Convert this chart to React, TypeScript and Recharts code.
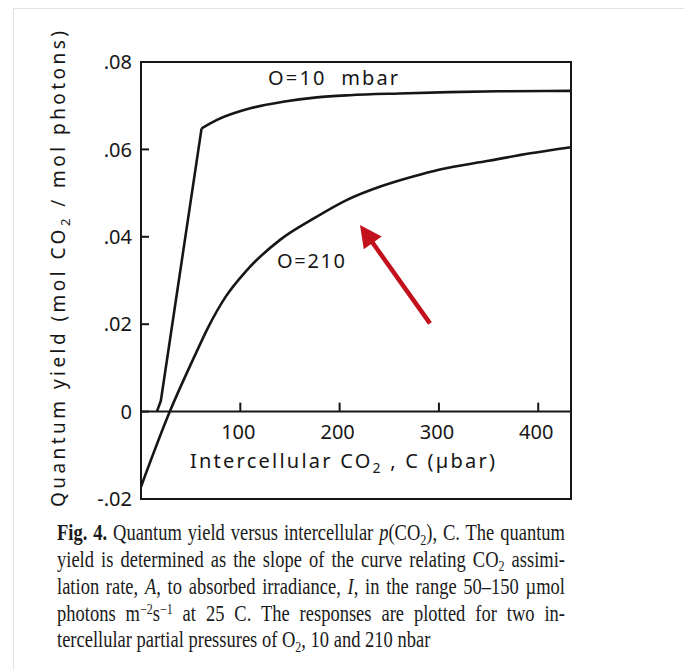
import React from 'react';
import { LineChart, Line, XAxis, YAxis, ReferenceLine, ReferenceDot, ReferenceArea } from 'recharts';

// ---- data ----
const o10Co2 = [16, 20, 61, 76, 110, 143, 177, 210, 260, 310, 360, 433];
const o10Yield = [0, 0.0025, 0.0648, 0.0667, 0.0694, 0.0709, 0.0719, 0.0724, 0.0728, 0.0731, 0.0733, 0.0734];

const o210Co2 = [0, 29, 55, 67, 85, 106, 140, 174, 207, 241, 274, 301, 350, 392, 433];
const o210Yield = [-0.0172, 0, 0.0132, 0.019, 0.0262, 0.0322, 0.0393, 0.0442, 0.0484, 0.0515, 0.0538, 0.0554, 0.0574, 0.0591, 0.0605];

const xDomain = [0, 433];
const yDomain = [-0.02, 0.08];
const xTicks = [100, 200, 300, 400];
const yTicks = [-0.02, 0, 0.02, 0.04, 0.06, 0.08];
const yTickLabels = ['-.02', '0', '.02', '.04', '.06', '.08'];

const labelO10 = { c: 128, q: 0.0747, text: 'O=10  mbar' };
const labelO210 = { c: 137, q: 0.0329, text: 'O=210' };
const arrowTail = { c: 291, q: 0.0202 };
const arrowTip = { c: 220.5, q: 0.0427 };

const o10Data = o10Co2.map((c, i) => ({ c, q: o10Yield[i] }));
const o10Steep = o10Data.slice(0, 3);
const o10Bend = o10Data.slice(2);
const o210Data = o210Co2.map((c, i) => ({ c, q: o210Yield[i] }));

const INK = '#161616';
const FONT = '"Noto Sans", "DejaVu Sans", sans-serif';

const YTick = (props: any) => {
  const { x, y, index } = props;
  return (
    <g>
      <line x1={x + 8} x2={x + 16} y1={y} y2={y} stroke={INK} strokeWidth={2} />
      <text x={x - 1} y={y} dy="0.36em" textAnchor="end" fontFamily={FONT} fontSize={20} fill={INK}>
        {yTickLabels[index]}
      </text>
    </g>
  );
};

const makeXTick = (label: string) => (p: any) => (
  <g>
    <line x1={p.cx} x2={p.cx} y1={p.cy} y2={p.cy - 9} stroke={INK} strokeWidth={2} />
    <text x={p.cx - 2} y={p.cy + 27} textAnchor="middle" fontFamily={FONT} fontSize={20} fill={INK}>
      {label}
    </text>
  </g>
);

const makeTextLabel = (text: string, len: number) => (p: any) => (
  <text x={p.cx} y={p.cy} textAnchor="start" fontFamily={FONT} fontSize={20} fill={INK}
    textLength={len} lengthAdjust="spacing" xmlSpace="preserve">
    {text}
  </text>
);

const ArrowShape = (p: any) => {
  const { x1, y1, x2, y2 } = p;
  const dx = x2 - x1;
  const dy = y2 - y1;
  const len = Math.sqrt(dx * dx + dy * dy);
  const ux = dx / len;
  const uy = dy / len;
  const head = 22;
  const half = 11;
  const bx = x2 - ux * head;
  const by = y2 - uy * head;
  const px = -uy;
  const py = ux;
  return (
    <g>
      <line x1={x1} y1={y1} x2={bx + ux * 2} y2={by + uy * 2} stroke="#c2101c" strokeWidth={4.5} />
      <polygon
        points={`${x2},${y2} ${bx + px * half},${by + py * half} ${bx - px * half},${by - py * half}`}
        fill="#c2101c"
      />
    </g>
  );
};

const subStyle = { fontSize: 12, verticalAlign: '-0.3em', lineHeight: 0 } as const;
const supStyle = { fontSize: 12, verticalAlign: '0.5em', lineHeight: 0 } as const;
const justify = { textAlign: 'justify', textAlignLast: 'justify' } as const;

export default function App() {
  return (
    <div style={{ position: 'absolute', left: 0, top: 0, width: 684, height: 670, background: '#fff', overflow: 'hidden' }}>
      <div style={{ position: 'absolute', left: 13, top: 8, width: 700, height: 700, borderLeft: '1px solid #e2e2e2', borderTop: '1px solid #e2e2e2' }} />
      <div style={{ position: 'absolute', left: 0, top: 0 }}>
        <LineChart width={684} height={520} margin={{ top: 62, right: 113, bottom: 21, left: 81 }}>
          <XAxis type="number" dataKey="c" domain={xDomain} hide allowDataOverflow />
          <YAxis
            type="number"
            domain={yDomain}
            ticks={yTicks}
            interval={0}
            width={60}
            axisLine={false}
            tickLine={false}
            tickSize={0}
            tickMargin={8}
            tick={<YTick />}
            allowDataOverflow
          />
          <ReferenceArea x1={xDomain[0]} x2={xDomain[1]} y1={yDomain[0]} y2={yDomain[1]} fill="none" stroke={INK} strokeWidth={2} fillOpacity={0} />
          <ReferenceLine y={0} stroke={INK} strokeWidth={2} />
          {xTicks.map((t) => (
            <ReferenceDot key={t} x={t} y={0} r={0} shape={makeXTick(String(t))} />
          ))}
          <Line data={o10Steep} dataKey="q" type="linear" stroke={INK} strokeWidth={2.6} dot={false} isAnimationActive={false} />
          <Line data={o10Bend} dataKey="q" type="monotone" stroke={INK} strokeWidth={2.6} dot={false} isAnimationActive={false} />
          <Line data={o210Data} dataKey="q" type="monotone" stroke={INK} strokeWidth={2.6} dot={false} isAnimationActive={false} />
          <ReferenceDot x={labelO10.c} y={labelO10.q} r={0} shape={makeTextLabel(labelO10.text, 130)} />
          <ReferenceDot x={labelO210.c} y={labelO210.q} r={0} shape={makeTextLabel(labelO210.text, 68)} />
          <ReferenceLine
            segment={[{ x: arrowTail.c, y: arrowTail.q }, { x: arrowTip.c, y: arrowTip.q }]}
            shape={ArrowShape}
          />
        </LineChart>
      </div>
      <svg width={684} height={520} style={{ position: 'absolute', left: 0, top: 0, pointerEvents: 'none' }}>
        <text
          transform="translate(65,269) rotate(-90)"
          x={0}
          y={0}
          textAnchor="middle"
          fontFamily={FONT}
          fontSize={19}
          fill={INK}
          textLength={476}
          lengthAdjust="spacing"
        >
          Quantum yield (mol CO<tspan fontSize={13} dy={5}>2</tspan><tspan dy={-5}> / mol photons)</tspan>
        </text>
        <text
          x={190}
          y={468}
          textAnchor="start"
          fontFamily={FONT}
          fontSize={20}
          fill={INK}
          textLength={305}
          lengthAdjust="spacing"
        >
          Intercellular CO<tspan fontSize={14} dy={5}>2</tspan><tspan dy={-5}> , C (µbar)</tspan>
        </text>
      </svg>
      <div
        style={{
          position: 'absolute',
          left: 57,
          top: 520,
          width: 508,
          fontFamily: '"Liberation Serif", "Times New Roman", serif',
          fontSize: 18.5,
          lineHeight: '22.33px',
          color: '#1a1a1a',
          transform: 'scaleY(1.2)',
          transformOrigin: '0 0',
        }}
      >
        <div style={justify}>
          <b>Fig. 4.</b> Quantum yield versus intercellular <i>p</i>(CO<sub style={subStyle}>2</sub>), C. The quantum
        </div>
        <div style={justify}>
          yield is determined as the slope of the curve relating CO<sub style={subStyle}>2</sub> assimi-
        </div>
        <div style={justify}>
          lation rate, <i>A</i>, to absorbed irradiance, <i>I</i>, in the range 50–150 µmol
        </div>
        <div style={justify}>
          photons m<sup style={supStyle}>−2</sup>s<sup style={supStyle}>−1</sup> at 25 C. The responses are plotted for two in-
        </div>
        <div>
          tercellular partial pressures of O<sub style={subStyle}>2</sub>, 10 and 210 nbar
        </div>
      </div>
    </div>
  );
}
